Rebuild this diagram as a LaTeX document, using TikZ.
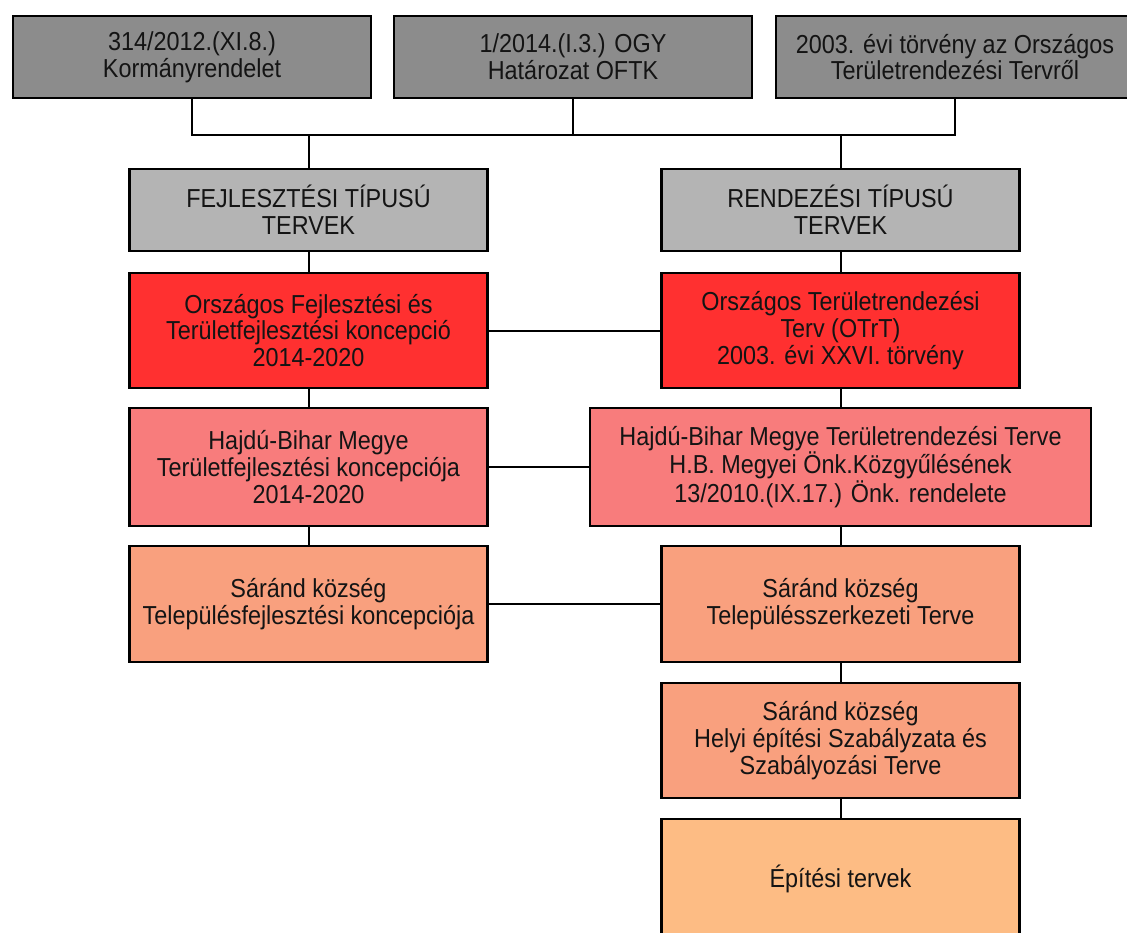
\documentclass[tikz,border=0pt]{standalone}
\usepackage{fontspec}
\setmainfont{Liberation Sans}[FakeStretch=0.9]
\definecolor{topgray}{HTML}{8C8C8C}
\definecolor{typegray}{HTML}{B4B4B4}
\definecolor{nred}{HTML}{FF3030}
\definecolor{mpink}{HTML}{F87C7C}
\definecolor{lsalmon}{HTML}{F9A07E}
\definecolor{borange}{HTML}{FDBC84}
\definecolor{ink}{HTML}{141414}
\begin{document}
\begin{tikzpicture}[x=1pt,y=-1pt,
  box/.style={draw=black, line width=2.6pt, minimum width=358pt, align=center, inner sep=0pt,
    text=ink, font=\fontsize{26}{26.8}\selectfont},
  conn/.style={draw=black, line width=2pt}]
\useasboundingbox (0,0) rectangle (1127,932);
\clip (0,0) rectangle (1127,932);
% nodes
\node[box, fill=topgray, minimum height=82pt] (t1) at (192,57) {314/2012.(XI.8.)\\Kormányrendelet};
\node[box, fill=topgray, minimum height=82pt] (t2) at (573,57) {1/2014.(I.3.) OGY\\Határozat OFTK};
\node[box, fill=topgray, minimum height=82pt] (t3) at (955,57) {2003. évi törvény az Országos\\Területrendezési Tervről};
\node[box, fill=typegray, minimum height=82pt] (fej) at (308.5,210) {FEJLESZTÉSI TÍPUSÚ\\TERVEK};
\node[box, fill=typegray, minimum height=82pt] (rend) at (840.5,210) {RENDEZÉSI TÍPUSÚ\\TERVEK};
\node[box, fill=nred, minimum height=115pt] (ofk) at (308.5,330.5) {Országos Fejlesztési és\\Területfejlesztési koncepció\\2014-2020};
\node[box, fill=nred, minimum height=115pt] (otrt) at (840.5,330.5) {Országos Területrendezési\\Terv (OTrT)\\2003. évi XXVI. törvény};
\node[box, fill=mpink, minimum height=118pt] (hbk) at (308.5,467) {Hajdú-Bihar Megye\\Területfejlesztési koncepciója\\2014-2020};
\node[box, fill=mpink, minimum height=118pt, minimum width=501pt] (hbt) at (840.5,467) {Hajdú-Bihar Megye Területrendezési Terve\\H.B. Megyei Önk.Közgyűlésének\\13/2010.(IX.17.) Önk. rendelete};
\node[box, fill=lsalmon, minimum height=116pt] (stk) at (308.5,604) {Sáránd község\\Településfejlesztési koncepciója};
\node[box, fill=lsalmon, minimum height=116pt] (stt) at (840.5,604) {Sáránd község\\Településszerkezeti Terve};
\node[box, fill=lsalmon, minimum height=115pt] (hesz) at (840.5,740.5) {Sáránd község\\Helyi építési Szabályzata és\\Szabályozási Terve};
\node[box, fill=borange, minimum height=120pt] (ept) at (840.5,879) {Építési tervek};
% connectors
\coordinate (bus) at (0,135);
\draw[conn] (t1.south) -- (t1.south |- bus) -- (t3.south |- bus) -- (t3.south);
\draw[conn] (t2.south) -- (t2.south |- bus);
\draw[conn] (fej.north) -- (fej.north |- bus);
\draw[conn] (rend.north) -- (rend.north |- bus);
\draw[conn] (fej.south) -- (ofk.north);
\draw[conn] (ofk.south) -- (hbk.north);
\draw[conn] (hbk.south) -- (stk.north);
\draw[conn] (rend.south) -- (otrt.north);
\draw[conn] (otrt.south) -- (hbt.north);
\draw[conn] (hbt.south) -- (stt.north);
\draw[conn] (stt.south) -- (hesz.north);
\draw[conn] (hesz.south) -- (ept.north);
\draw[conn] (ofk.east) -- (otrt.west);
\draw[conn] (hbk.east) -- (hbt.west);
\draw[conn] (stk.east) -- (stt.west);
\end{tikzpicture}
\end{document}
